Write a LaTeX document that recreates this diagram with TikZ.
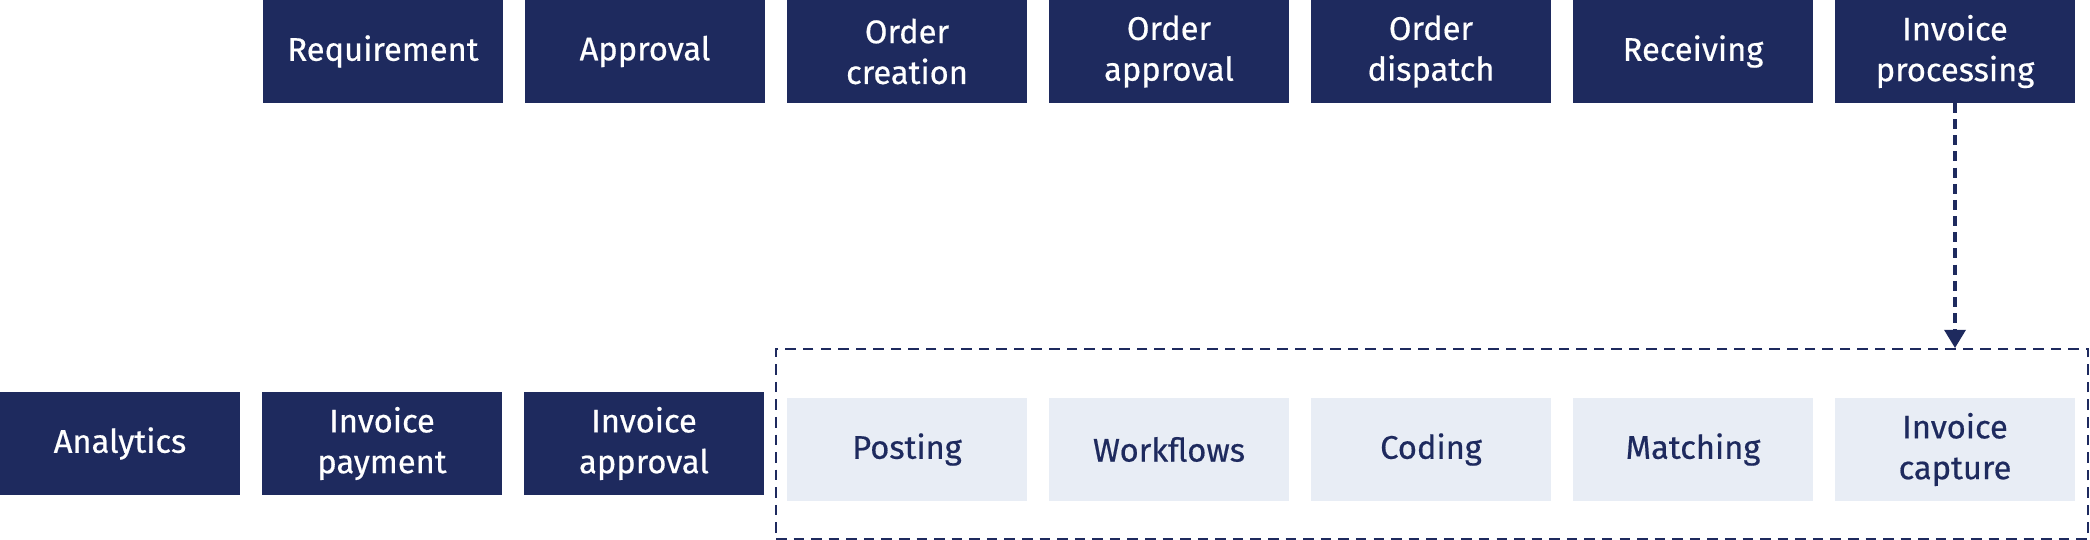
\documentclass[tikz,border=0pt]{standalone}
\usepackage{fontspec}
\setmainfont{Fira Sans}[UprightFeatures={FakeBold=0.5}]
\usepackage{tikz}
\usetikzlibrary{positioning,arrows.meta}

\definecolor{navy}{HTML}{1E2A5E}
\definecolor{paleblue}{HTML}{E8EDF5}

\begin{document}
\begin{tikzpicture}
[
darknode/.style={rectangle, fill=navy, text=white, minimum width=2.4cm, minimum height=1.03cm, inner sep=0, outer sep=0, align=center, font=\fontsize{9.3}{11.6}\selectfont},
lightnode/.style={darknode, fill=paleblue, text=navy},
groupbox/.style={rectangle, draw=navy, densely dashed, line width=0.55pt, minimum width=13.12cm, minimum height=1.9cm, inner sep=0},
flow/.style={draw=navy, line width=1pt, dash pattern=on 2.8pt off 1.8pt, -{Triangle[width=6pt,length=5.2pt]}},
node distance=0.22cm
]
\useasboundingbox (0,0) rectangle (20.9,5.4);
% top row
\node[darknode] (req)                        at (3.83,4.885) {Requirement};
\node[darknode] (appr)  [right=of req]       {Approval};
\node[darknode] (ocre)  [right=of appr]      {Order\\creation};
\node[darknode] (oapp)  [right=of ocre]      {Order\\approval};
\node[darknode] (odis)  [right=of oapp]      {Order\\dispatch};
\node[darknode] (recv)  [right=of odis]      {Receiving};
\node[darknode] (proc)  [right=of recv]      {Invoice\\processing};
% bottom row
\node[darknode] (anly)                       at (1.2,0.965) {Analytics};
\node[darknode] (ipay)  [right=of anly]      {Invoice\\payment};
\node[darknode] (iapp)  [right=of ipay]      {Invoice\\approval};
\node[groupbox] (group)                      at (14.32,0.96) {};
\node[lightnode] (post)                      at (9.07,0.905) {Posting};
\node[lightnode] (wflo) [right=of post]      {Workflows};
\node[lightnode] (code) [right=of wflo]      {Coding};
\node[lightnode] (mtch) [right=of code]      {Matching};
\node[lightnode] (capt) [right=of mtch]      {Invoice\\capture};
\draw[flow] (proc) -- (proc |- group.north);
\end{tikzpicture}
\end{document}
